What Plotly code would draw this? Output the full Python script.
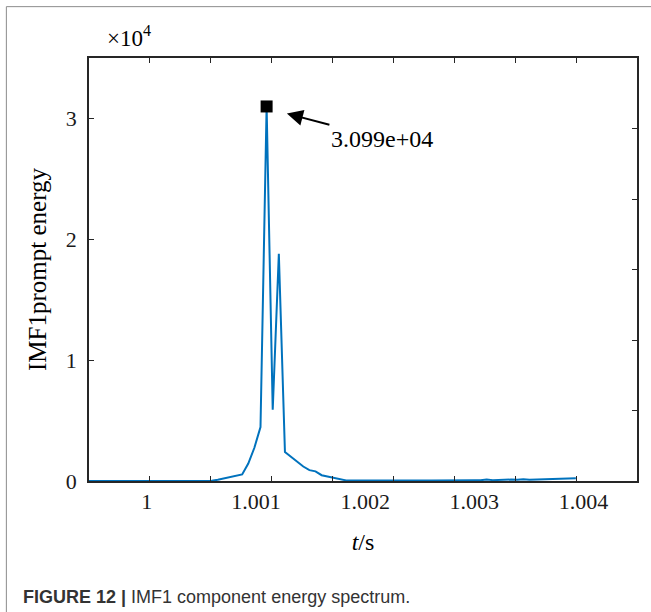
import plotly.graph_objects as go

# ---------------- data ----------------
t_s = [0.99947, 0.99980, 1.00010, 1.00040, 1.000538, 1.000594, 1.000650, 1.000705,
       1.000761, 1.000817, 1.000873, 1.000929, 1.000985, 1.001041, 1.001097, 1.001153,
       1.001209, 1.001265, 1.001321, 1.001377, 1.001433, 1.001489, 1.001545, 1.001601,
       1.001657, 1.001713, 1.001769, 1.001825,
       1.001881, 1.001937, 1.001993, 1.002049, 1.002105, 1.002161, 1.002217, 1.002273,
       1.002329, 1.002385, 1.002441, 1.002497, 1.002553, 1.002609, 1.002665, 1.002721,
       1.002777, 1.002833, 1.002889, 1.002945, 1.003001, 1.003057, 1.003113, 1.003169,
       1.003225, 1.003281, 1.003337, 1.003393, 1.003449, 1.003505, 1.003561, 1.003617,
       1.003673, 1.003729, 1.003785, 1.003841, 1.003897, 1.003930]
energy = [0, 0, 0, 0, 10, 30, 100, 200,
          330, 450, 540, 1440, 2750, 4470, 30990, 5900,
          18800, 2400, 1980, 1570, 1200, 900, 800, 480,
          360, 300, 130, 50,
          40, 35, 30, 30, 35, 30, 30, 35,
          40, 35, 40, 45, 40, 50, 60, 55,
          60, 70, 80, 90, 70, 60, 130, 70,
          90, 150, 120, 100, 140, 110, 130, 160,
          120, 140, 160, 180, 200, 220]

peak_t = [1.001097]
peak_energy = [30990]
peak_label = "3.099e+04"

x_label_vals = [1.000, 1.001, 1.002, 1.003, 1.004]
x_label_text = ["1", "1.001", "1.002", "1.003", "1.004"]
y_tick_vals = [0, 10000, 20000, 30000]
y_tick_text = ["0", "1", "2", "3"]
# frame tick marks: the box edges are split into 9 (horizontal) and 6 (vertical) equal parts
frame_x_ticks = [1, 2, 3, 4, 5, 6, 7, 8]
frame_y_ticks = [1, 2, 3, 4, 5]

SERIF = "Liberation Serif"
SANS = "Liberation Sans"
AXC = "#262626"

fig = go.Figure()
fig.add_trace(go.Scatter(x=t_s, y=energy, mode="lines",
                         line=dict(color="#0072BD", width=2), showlegend=False,
                         hoverinfo="skip"))
fig.add_trace(go.Scatter(x=peak_t, y=peak_energy, mode="markers",
                         marker=dict(symbol="square", size=12, color="black"),
                         showlegend=False, hoverinfo="skip"))
# empty traces so that the frame-tick axes are drawn
fig.add_trace(go.Scatter(x=[], y=[], xaxis="x2", yaxis="y2", mode="markers",
                         showlegend=False, hoverinfo="skip"))
fig.add_trace(go.Scatter(x=[], y=[], xaxis="x3", yaxis="y2", mode="markers",
                         showlegend=False, hoverinfo="skip"))

fig.update_layout(
    width=651, height=612,
    margin=dict(l=89, r=14, t=58, b=131),
    paper_bgcolor="white", plot_bgcolor="white",
    font=dict(family=SERIF, size=22, color="black"),
    xaxis=dict(range=[0.99947, 1.00449], tickvals=x_label_vals, ticktext=x_label_text,
               ticks="", showline=True, linecolor=AXC, linewidth=1.5, mirror=True,
               showgrid=False, zeroline=False, ticklabelstandoff=0,
               tickfont=dict(family=SERIF, size=22, color="#1a1a1a"),
               title=dict(text="<i>t</i>/s", font=dict(family=SERIF, size=24), standoff=20)),
    yaxis=dict(range=[0, 35000], tickvals=y_tick_vals, ticktext=y_tick_text,
               ticks="inside", ticklen=5, tickcolor=AXC, tickwidth=1.3,
               showline=True, linecolor=AXC, linewidth=1.5, mirror=True,
               showgrid=False, zeroline=False, ticklabelstandoff=6,
               tickfont=dict(family=SERIF, size=22, color="#1a1a1a"),
               title=dict(text="IMF1prompt energy", font=dict(family=SERIF, size=25), standoff=12)),
    xaxis2=dict(overlaying="x", anchor="y2", side="bottom", range=[0, 9],
                tickvals=frame_x_ticks, ticks="inside", ticklen=5, tickcolor=AXC, tickwidth=1.3,
                showticklabels=False, showline=False, showgrid=False, zeroline=False),
    xaxis3=dict(overlaying="x", anchor="y2", side="top", range=[0, 9],
                tickvals=frame_x_ticks, ticks="inside", ticklen=5, tickcolor=AXC, tickwidth=1.3,
                showticklabels=False, showline=False, showgrid=False, zeroline=False),
    yaxis2=dict(overlaying="y", anchor="x2", side="right", range=[0, 6],
                tickvals=frame_y_ticks, ticks="inside", ticklen=5, tickcolor=AXC, tickwidth=1.3,
                showticklabels=False, showline=False, showgrid=False, zeroline=False),
)

# annotation arrow pointing at the peak marker
fig.add_annotation(x=1.001283, y=30400, xref="x", yref="y",
                   text=peak_label, showarrow=True, arrowhead=2, arrowsize=1.6,
                   arrowwidth=2, arrowcolor="black", ax=95, ay=25,
                   font=dict(family=SERIF, size=24, color="black"))
# exponent label
fig.add_annotation(x=0.030, y=1.050, xref="paper", yref="paper", xanchor="left",
                   yanchor="middle", showarrow=False, text="×10<sup>4</sup>",
                   font=dict(family=SERIF, size=23, color="black"))
# caption
fig.add_annotation(x=-0.1234, y=-0.2753, xref="paper", yref="paper", xanchor="left",
                   yanchor="middle", showarrow=False,
                   text="<b>FIGURE 12 |</b> IMF1 component energy spectrum.",
                   font=dict(family=SANS, size=18, color="#333333"))
# outer frame lines (page border)
fig.add_shape(type="line", xref="paper", yref="paper", x0=-0.1508, x1=1.03, y0=1.1214, y1=1.1214,
              line=dict(color="#8c8c8c", width=1))
fig.add_shape(type="line", xref="paper", yref="paper", x0=-0.1508, x1=-0.1508, y0=1.1214, y1=-0.32,
              line=dict(color="#8c8c8c", width=1))

fig.write_html("out.html", config={"displayModeBar": False},
               post_script="document.body.style.margin='0';")
